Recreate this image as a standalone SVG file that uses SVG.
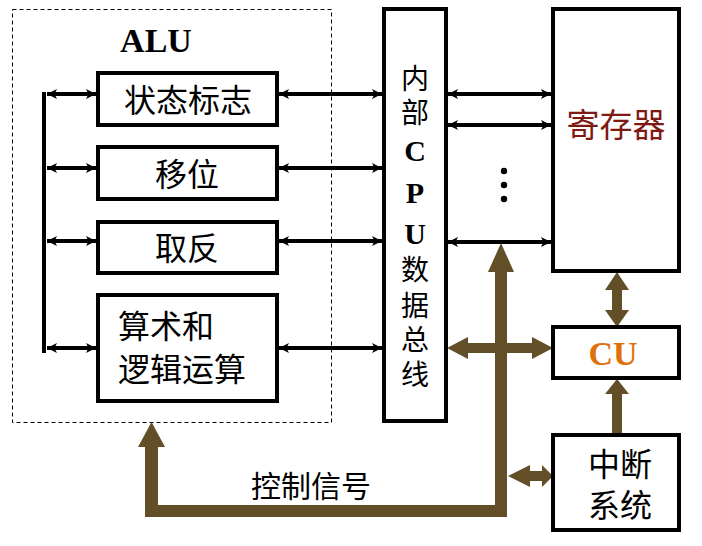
<svg xmlns="http://www.w3.org/2000/svg" width="702" height="546" viewBox="0 0 702 546">
<style>
.box{fill:#fff;stroke:#000;stroke-width:4}
.cjk{font-family:"Noto Sans CJK SC","Noto Sans CJK JP",sans-serif;fill:#000}
.lat{font-family:"Liberation Serif",serif;font-weight:bold}
.bl{stroke:#000;stroke-width:4;fill:none}
.br{fill:#634f27}
</style>
<defs>
<marker id="ah" viewBox="0 0 10 10" refX="10" refY="5" markerWidth="10" markerHeight="10" markerUnits="userSpaceOnUse" orient="auto-start-reverse">
<path d="M0,0 L10,5 L0,10 L2.5,5 Z" fill="#000"/>
</marker>
</defs>
<rect x="12.5" y="9.5" width="319" height="413" fill="none" stroke="#000" stroke-width="1" stroke-dasharray="4 3"/>
<text x="156" y="52" class="lat" font-size="34" text-anchor="middle" fill="#000">ALU</text>

<g id="connectors">
<line class="bl" x1="44" y1="92" x2="44" y2="353"/>
<g class="bl">
<line x1="47" y1="94" x2="96" y2="94" marker-start="url(#ah)" marker-end="url(#ah)"/>
<line x1="47" y1="168" x2="96" y2="168" marker-start="url(#ah)" marker-end="url(#ah)"/>
<line x1="47" y1="241" x2="96" y2="241" marker-start="url(#ah)" marker-end="url(#ah)"/>
<line x1="47" y1="348" x2="96" y2="348" marker-start="url(#ah)" marker-end="url(#ah)"/>
<line x1="279" y1="94" x2="382" y2="94" marker-start="url(#ah)" marker-end="url(#ah)"/>
<line x1="279" y1="168" x2="382" y2="168" marker-start="url(#ah)" marker-end="url(#ah)"/>
<line x1="279" y1="241" x2="382" y2="241" marker-start="url(#ah)" marker-end="url(#ah)"/>
<line x1="279" y1="348" x2="382" y2="348" marker-start="url(#ah)" marker-end="url(#ah)"/>
<line x1="448" y1="94" x2="551" y2="94" marker-start="url(#ah)" marker-end="url(#ah)"/>
<line x1="448" y1="125" x2="551" y2="125" marker-start="url(#ah)" marker-end="url(#ah)"/>
<line x1="448" y1="242" x2="551" y2="242" marker-start="url(#ah)" marker-end="url(#ah)"/>
</g>
<circle cx="504" cy="171" r="3.2" fill="#000"/>
<circle cx="504" cy="185" r="3.2" fill="#000"/>
<circle cx="504" cy="199" r="3.2" fill="#000"/>
<path class="br" d="M151.5,422 L165,447 L158,447 L158,505 L495,505 L495,272 L488,272 L501,243 L514,272 L507,272 L507,517 L145,517 L145,447 L138,447 Z"/>
<path class="br" d="M447,348 L468,337 L468,343 L532,343 L532,337 L553,348 L532,359 L532,353 L468,353 L468,359 Z"/>
<path class="br" d="M617,272 L629,290 L622,290 L622,310 L629,310 L617,327 L605,310 L612,310 L612,290 L605,290 Z"/>
<path class="br" d="M617,379 L629,394 L622,394 L622,435 L612,435 L612,394 L605,394 Z"/>
<path class="br" d="M508,476 L530,465 L530,471 L542,471 L542,465 L553,476 L542,487 L542,481 L530,481 L530,487 Z"/>
<text x="311" y="484" class="cjk" font-size="30" text-anchor="middle" dominant-baseline="central">控制信号</text>
</g>

<g id="n-flag">
<rect class="box" x="98" y="73" width="179" height="52"/>
<text x="188" y="98" class="cjk" font-size="32" text-anchor="middle" dominant-baseline="central">状态标志</text>
</g>
<g id="n-shift">
<rect class="box" x="98" y="147" width="179" height="52"/>
<text x="187" y="172" class="cjk" font-size="32" text-anchor="middle" dominant-baseline="central">移位</text>
</g>
<g id="n-not">
<rect class="box" x="98" y="222" width="179" height="51"/>
<text x="187" y="246" class="cjk" font-size="32" text-anchor="middle" dominant-baseline="central">取反</text>
</g>
<g id="n-arith">
<rect class="box" x="98" y="295" width="179" height="106"/>
<text x="118" y="324" class="cjk" font-size="32" dominant-baseline="central">算术和</text>
<text x="118" y="367" class="cjk" font-size="32" dominant-baseline="central">逻辑运算</text>
</g>
<g id="n-bus">
<rect class="box" x="384" y="9" width="62" height="412"/>
<text class="cjk" font-size="28" text-anchor="middle"><tspan x="415" y="89">内</tspan><tspan x="415" y="123">部</tspan><tspan class="lat" font-size="30" x="415" y="161">C</tspan><tspan class="lat" font-size="30" x="415" y="203">P</tspan><tspan class="lat" font-size="30" x="415" y="244">U</tspan><tspan x="415" y="280">数</tspan><tspan x="415" y="316">据</tspan><tspan x="415" y="350">总</tspan><tspan x="415" y="385">线</tspan></text>
</g>
<g id="n-reg">
<rect class="box" x="553" y="9" width="126" height="262"/>
<text x="616" y="123" class="cjk" font-size="33" text-anchor="middle" dominant-baseline="central" style="fill:#7f1a12">寄存器</text>
</g>
<g id="n-cu">
<rect class="box" x="553" y="327" width="126" height="51"/>
<text x="613" y="365" class="lat" font-size="34" text-anchor="middle" fill="#e0700c">CU</text>
</g>
<g id="n-int">
<rect class="box" x="553" y="435" width="126" height="95"/>
<text x="620" y="462" class="cjk" font-size="32" text-anchor="middle" dominant-baseline="central">中断</text>
<text x="620" y="503" class="cjk" font-size="32" text-anchor="middle" dominant-baseline="central">系统</text>
</g>
</svg>
